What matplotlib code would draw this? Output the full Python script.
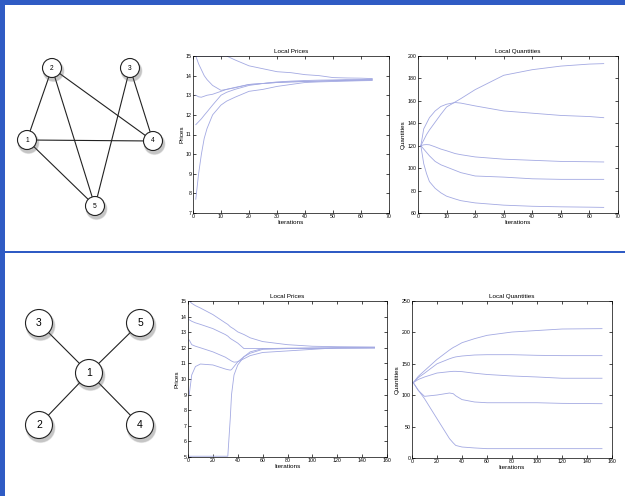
import matplotlib
matplotlib.use('Agg')
import matplotlib.pyplot as plt
from matplotlib.patches import Circle, Rectangle

# ---- data ----
# network 1 (top row)
g1_nodes = ['1', '2', '3', '4', '5']
g1_pos = [(27, 140), (52, 68), (130, 68), (153, 141), (95, 206)]
g1_edges = [('2', '1'), ('2', '5'), ('2', '4'), ('3', '5'), ('3', '4'), ('1', '4'), ('1', '5')]

# network 2 (bottom row)
g2_nodes = ['1', '2', '3', '4', '5']
g2_pos = [(89, 373), (39, 425), (39, 323), (140, 425), (140, 323)]
g2_edges = [('1', '3'), ('1', '5'), ('1', '2'), ('1', '4')]

# run 1: prices
it1 = [1, 2, 3, 4, 5, 7, 10, 12, 15, 20, 25, 30, 35, 40, 45, 50, 55, 60, 64]
p1_a = [15, 15, 15, 15, 15, 15, 15, 15, 14.8, 14.5, 14.35, 14.2, 14.15, 14.05, 14.0, 13.9, 13.88, 13.87, 13.85]
p1_b = [15, 14.6, 14.3, 14.0, 13.8, 13.5, 13.25, 13.3, 13.4, 13.55, 13.6, 13.65, 13.68, 13.7, 13.72, 13.75, 13.75, 13.78, 13.8]
p1_c = [13.0, 12.92, 12.9, 12.95, 13.0, 13.05, 13.2, 13.3, 13.38, 13.55, 13.6, 13.65, 13.68, 13.7, 13.72, 13.74, 13.75, 13.76, 13.78]
p1_d = [11.5, 11.65, 11.8, 11.98, 12.15, 12.5, 13.0, 13.15, 13.3, 13.5, 13.6, 13.68, 13.72, 13.75, 13.77, 13.78, 13.8, 13.8, 13.82]
p1_e = [7.7, 9.0, 10.0, 10.8, 11.3, 12.0, 12.5, 12.7, 12.9, 13.2, 13.3, 13.45, 13.55, 13.65, 13.68, 13.7, 13.72, 13.74, 13.75]

# run 1: quantities
itq1 = [1, 2, 3, 4, 6, 8, 10, 13, 15, 20, 30, 40, 50, 60, 65]
q1_a = [120, 125, 130, 134, 141, 148, 154.5, 159, 162, 170, 182.8, 187.8, 191, 192.8, 193.2]
q1_b = [120, 135, 140, 145, 151, 155, 157, 158.5, 158, 155.5, 151, 149, 147, 146, 145]
q1_c = [120, 120.8, 121, 120.8, 119, 117, 115.5, 113, 112, 110, 108, 107, 106, 105.7, 105.5]
q1_d = [120, 117, 114, 111, 106, 103, 101, 98, 96, 93, 92, 90.5, 90, 90, 90]
q1_e = [120, 104, 95, 88, 82, 78, 75, 72.5, 71, 69, 67, 66, 65.5, 65.2, 65]

# run 2: prices
it2 = [1, 3, 6, 10, 20, 30, 32, 34, 35, 37, 40, 45, 50, 60, 80, 100, 120, 150]
p2_a = [15, 14.85, 14.7, 14.55, 14.13, 13.6, 13.5, 13.35, 13.3, 13.2, 13.02, 12.85, 12.64, 12.4, 12.2, 12.1, 12.07, 12.05]
p2_b = [13.8, 13.7, 13.6, 13.5, 13.23, 12.85, 12.75, 12.6, 12.55, 12.45, 12.3, 11.95, 11.95, 11.95, 11.97, 11.98, 11.98, 12.0]
p2_c = [12.5, 12.2, 12.1, 12.0, 11.74, 11.4, 11.3, 11.2, 11.15, 11.08, 11.1, 11.3, 11.5, 11.7, 11.8, 11.9, 12.0, 12.0]
p2_d = [9.0, 10.26, 10.8, 10.96, 10.9, 10.64, 10.6, 10.57, 10.6, 10.8, 11.1, 11.43, 11.65, 11.9, 11.95, 11.97, 11.98, 12.0]
p2_e = [5.05, 5.05, 5.05, 5.05, 5.05, 5.05, 5.05, 7.5, 9.0, 10.26, 10.9, 11.43, 11.74, 11.95, 11.97, 11.98, 12.0, 12.0]

# run 2: quantities
itq2 = [1, 5, 10, 20, 30, 33, 35, 40, 50, 60, 80, 100, 120, 152]
q2_a = [120, 130, 139, 157, 172, 176, 178, 183.6, 190, 195.3, 200.6, 203, 205.4, 206]
q2_b = [120, 128, 135, 150, 158, 160, 161, 162.4, 164, 164.5, 164.5, 163.5, 163, 163]
q2_c = [120, 125, 129, 135.3, 137.5, 138, 138, 137.5, 135, 133, 130.6, 129, 127, 127]
q2_d = [120, 107.7, 98.2, 100.3, 103.5, 102.4, 99, 93, 89.2, 88, 88, 88, 87, 86.5]
q2_e = [120, 108, 94.5, 62.6, 30.8, 24, 20, 17.5, 16, 14.9, 14.9, 14.9, 14.9, 14.9]

W, H = 625, 496
line_col = '#a3a9e2'
blue = '#2f5bc4'

plt.rcParams['font.family'] = ['Liberation Sans', 'DejaVu Sans']


def px_axes(fig, x0, y0, x1, y1):
    return fig.add_axes([x0 / W, 1 - y1 / H, (x1 - x0) / W, (y1 - y0) / H])


def style(ax, title, ylabel, xlim, xticks, ylim, yticks):
    ax.set_xlim(xlim)
    ax.set_ylim(ylim)
    ax.set_xticks(xticks)
    ax.set_yticks(yticks)
    ax.tick_params(direction='in', length=2, width=0.5, labelsize=3.8, pad=1,
                   top=True, right=True)
    for s in ax.spines.values():
        s.set_linewidth(0.5)
    ax.set_title(title, fontsize=4.6, pad=2)
    ax.set_xlabel('Iterations', fontsize=4.6, labelpad=0.5)
    ax.set_ylabel(ylabel, fontsize=4.6, labelpad=1)


def draw_graph(ax, names, pos, edges, r, fs):
    lookup = dict(zip(names, pos))
    for a, b in edges:
        (xa, ya), (xb, yb) = lookup[a], lookup[b]
        ax.plot([xa, xb], [ya, yb], color='#222222', lw=0.8, zorder=1)
    for name, (x, y) in zip(names, pos):
        for k, al in [(1.6, 0.08), (1.2, 0.12), (0.8, 0.18)]:
            ax.add_patch(Circle((x + 1.5, y + 3), r + k, color='#555555', alpha=al, lw=0, zorder=2))
        ax.add_patch(Circle((x, y), r, facecolor='white', edgecolor='#222222', lw=0.8, zorder=3))
        ax.text(x, y, name, ha='center', va='center', fontsize=fs, zorder=4)


fig = plt.figure(figsize=(W / 100, H / 100), dpi=100)

bg = fig.add_axes([0, 0, 1, 1])
bg.set_xlim(0, W)
bg.set_ylim(H, 0)
bg.axis('off')
bg.add_patch(Rectangle((0, 0), W, 5, color=blue, lw=0))
bg.add_patch(Rectangle((0, 0), 4.5, H, color=blue, lw=0))
bg.add_patch(Rectangle((0, 251), W, 2.2, color=blue, lw=0))
draw_graph(bg, g1_nodes, g1_pos, g1_edges, 9.5, 4.8)
draw_graph(bg, g2_nodes, g2_pos, g2_edges, 13.5, 7.5)

ax1 = px_axes(fig, 193, 56, 389, 213)
for ys in [p1_a, p1_b, p1_c, p1_d, p1_e]:
    ax1.plot(it1, ys, color=line_col, lw=0.6)
style(ax1, 'Local Prices', 'Prices', (0, 70), range(0, 71, 10), (7, 15), range(7, 16))

ax2 = px_axes(fig, 418, 56, 618, 213)
for ys in [q1_a, q1_b, q1_c, q1_d, q1_e]:
    ax2.plot(itq1, ys, color=line_col, lw=0.6)
style(ax2, 'Local Quantities', 'Quantities', (0, 70), range(0, 71, 10), (60, 200), range(60, 201, 20))

ax3 = px_axes(fig, 188, 301, 387, 457)
for ys in [p2_a, p2_b, p2_c, p2_d, p2_e]:
    ax3.plot(it2, ys, color=line_col, lw=0.6)
style(ax3, 'Local Prices', 'Prices', (0, 160), range(0, 161, 20), (5, 15), range(5, 16))

ax4 = px_axes(fig, 412, 301, 612, 458)
for ys in [q2_a, q2_b, q2_c, q2_d, q2_e]:
    ax4.plot(itq2, ys, color=line_col, lw=0.6)
style(ax4, 'Local Quantities', 'Quantities', (0, 160), range(0, 161, 20), (0, 250), range(0, 251, 50))

fig.savefig('out.png', dpi=100)
